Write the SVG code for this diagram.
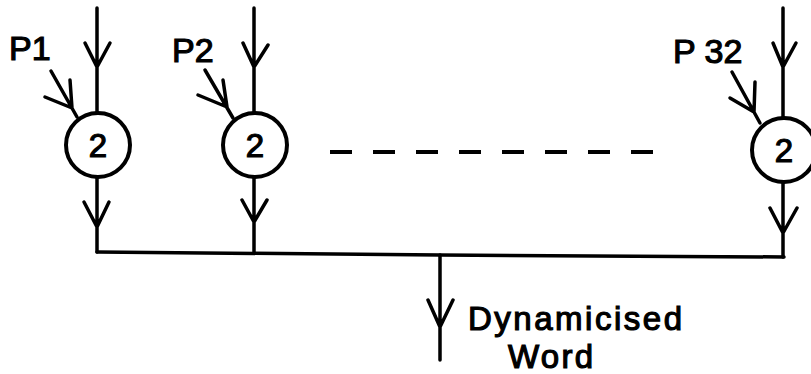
<svg xmlns="http://www.w3.org/2000/svg" width="811" height="374" viewBox="0 0 811 374">
<style>
.ln{fill:none;stroke:#000;stroke-width:3.5;stroke-linecap:round;stroke-linejoin:round}
.cir{fill:#fff;stroke:#000;stroke-width:4}
.t{font-family:"Liberation Sans",Arial,sans-serif;fill:#000;stroke:#000;stroke-width:1.2}
.lbl{font-size:34px}
.num{font-size:33px;text-anchor:middle}
.out{font-size:33px}
.dash{stroke:#000;stroke-width:4;stroke-dasharray:22 21}
</style>
<rect width="811" height="374" fill="#fff"/>
<g id="connectors">
  <path class="ln" d="M97 8 V113 M85 43 L97 67 L110 43"/>
  <path class="ln" d="M97 177 V252 M84 202 L97 227 L109 202"/>
  <path class="ln" d="M51 71 L77 117 M45 97 L72 108 L70 80"/>
  <path class="ln" d="M254 8 V113 M243 43 L254 67 L268 45"/>
  <path class="ln" d="M254 177 V253 M242 200 L254 222 L267 200"/>
  <path class="ln" d="M205 70 L233 118 M198 95 L227 107 L223 80"/>
  <path class="ln" d="M783 8 V118 M773 43 L783 67 L796 43"/>
  <path class="ln" d="M783 182 V257 M770 208 L783 233 L797 208"/>
  <path class="ln" d="M732 72 L760 123 M730 98 L754 112 L755 82"/>
  <path class="ln" d="M97 252 L440 255 L784 257"/>
  <path class="ln" d="M440 255 V360 M428 300 L440 327 L453 300"/>
  <line class="dash" x1="330" y1="152" x2="666" y2="152"/>
</g>
<g id="node-p1">
  <circle class="cir" cx="98" cy="145" r="32"/>
  <text class="t num" x="98" y="157">2</text>
  <text class="t lbl" x="9" y="60">P1</text>
</g>
<g id="node-p2">
  <circle class="cir" cx="255" cy="145" r="32"/>
  <text class="t num" x="255" y="157">2</text>
  <text class="t lbl" x="172" y="62">P2</text>
</g>
<g id="node-p32">
  <circle class="cir" cx="784" cy="150" r="32"/>
  <text class="t num" x="784" y="162">2</text>
  <text class="t lbl" x="673" y="63">P 32</text>
</g>
<g id="output-label">
  <text class="t out" x="468" y="330" textLength="214" lengthAdjust="spacing">Dynamicised</text>
  <text class="t out" x="508" y="368" textLength="85" lengthAdjust="spacing">Word</text>
</g>
</svg>
